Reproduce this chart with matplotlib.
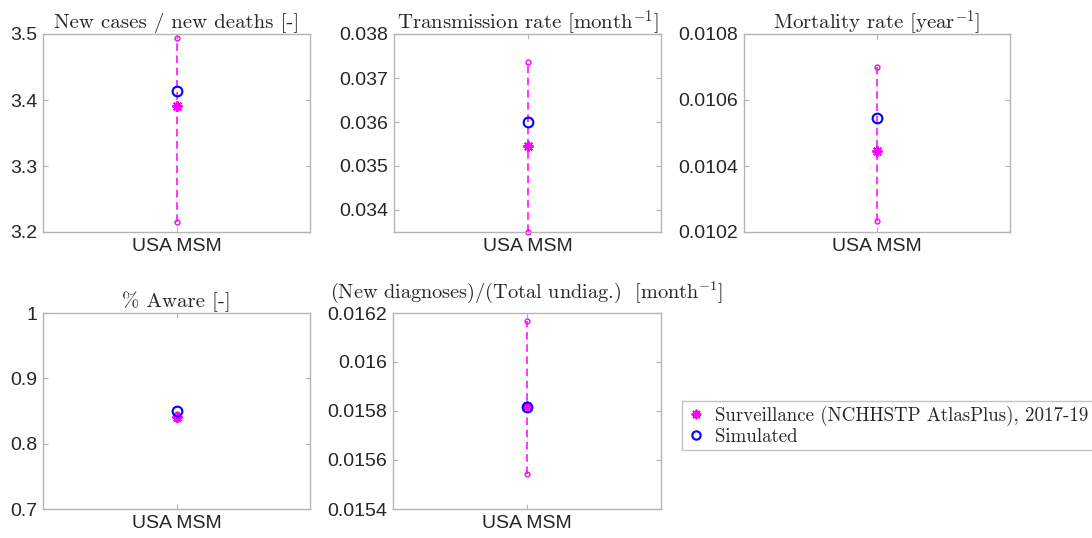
"""
plot.py: calibration targets, surveillance vs simulated (USA MSM)
"""

import matplotlib
matplotlib.use("Agg")
import matplotlib.pyplot as plt
from matplotlib.ticker import FuncFormatter
from matplotlib.lines import Line2D

plt.rcParams['mathtext.fontset'] = 'cm'

# Data
titles = ["New cases / new deaths [-]",
          r"Transmission rate [month$^{-1}$]",
          r"Mortality rate [year$^{-1}$]",
          "% Aware [-]",
          r"(New diagnoses)/(Total undiag.)  [month$^{-1}$]"]
category = "USA MSM"
surveillance = [3.391, 0.03545, 0.010445, 0.841, 0.01582]
surv_low = [3.215, 0.03350, 0.010233, 0.837, 0.015542]
surv_high = [3.494, 0.03737, 0.010700, 0.845, 0.016169]
simulated = [3.414, 0.03600, 0.010544, 0.850, 0.015818]
y_limits = [(3.2, 3.5), (0.0335, 0.038), (0.0102, 0.0108), (0.7, 1.0), (0.0154, 0.0162)]
y_ticks = [[3.2, 3.3, 3.4, 3.5],
           [0.034, 0.035, 0.036, 0.037, 0.038],
           [0.0102, 0.0104, 0.0106, 0.0108],
           [0.7, 0.8, 0.9, 1.0],
           [0.0154, 0.0156, 0.0158, 0.016, 0.0162]]

legend_labels = ["Surveillance (NCHHSTP AtlasPlus), 2017-19", "Simulated"]

W, H = 1092, 538
# axes boxes in pixels: left, right, top, bottom
boxes = [(43, 310, 34, 232), (394, 661, 34, 232), (744, 1010, 34, 232),
         (43, 310, 313, 509), (393, 661, 313, 509)]
title_sizes = [15, 15, 15, 15, 14.6]
title_pads = [4, 4, 4, 4, 11]

MAGENTA = '#ff00ff'
BLUE = '#0000ff'
GRAY = '#b4b4b4'
TEXT = '#262626'
tick_font = 'Liberation Sans'
title_font = ['cmr10', 'DejaVu Serif']

fig = plt.figure(figsize=(W / 100, H / 100), dpi=100)

for i, (l, r, t, b) in enumerate(boxes):
    ax = fig.add_axes([l / W, 1 - b / H, (r - l) / W, (b - t) / H])
    x = 1
    # error bar: dashed magenta line with small open circles at the ends
    ax.plot([x, x], [surv_low[i], surv_high[i]], '--', color=MAGENTA, lw=1.1,
            dashes=(5, 3), marker='o', ms=3.5, mfc='none', mec=MAGENTA, mew=1.0,
            clip_on=False if i == 1 else True)
    ax.plot([x], [surveillance[i]], ls='none', marker=(8, 2, 0), ms=7.5,
            mec=MAGENTA, mew=1.4)
    ax.plot([x], [simulated[i]], ls='none', marker='o', ms=7, mfc='none',
            mec=BLUE, mew=1.5)

    ax.set_xlim(0, 2)
    ax.set_ylim(*y_limits[i])
    ax.set_xticks([x])
    ax.set_xticklabels([category])
    ax.set_yticks(y_ticks[i])
    ax.yaxis.set_major_formatter(FuncFormatter(lambda v, p: '%g' % v))

    ax.tick_params(direction='in', length=3.5, color=GRAY, labelcolor=TEXT,
                   labelsize=14, top=True, right=True, width=0.8, pad=4)
    for lab in ax.get_xticklabels() + ax.get_yticklabels():
        lab.set_fontfamily(tick_font)
    for s in ax.spines.values():
        s.set_color(GRAY)
        s.set_linewidth(1.0)

    ax.set_title(titles[i], family=title_font, fontsize=title_sizes[i],
                 color=TEXT, pad=title_pads[i])

handles = [Line2D([], [], ls='none', marker=(8, 2, 0), ms=7, mec=MAGENTA, mew=1.4),
           Line2D([], [], ls='none', marker='o', ms=6, mfc='none', mec=BLUE, mew=1.5)]
leg = fig.legend(handles, legend_labels, loc='upper left',
                 bbox_to_anchor=(682 / W, 1 - 401 / H), frameon=True, fancybox=False,
                 prop={'family': title_font, 'size': 13.6}, handlelength=1.0,
                 handletextpad=0.5, borderpad=0.25, labelspacing=0.1,
                 borderaxespad=0)
leg.get_frame().set_edgecolor(GRAY)
leg.get_frame().set_linewidth(1.0)
for txt in leg.get_texts():
    txt.set_color(TEXT)

fig.savefig('out.png', dpi=100)
